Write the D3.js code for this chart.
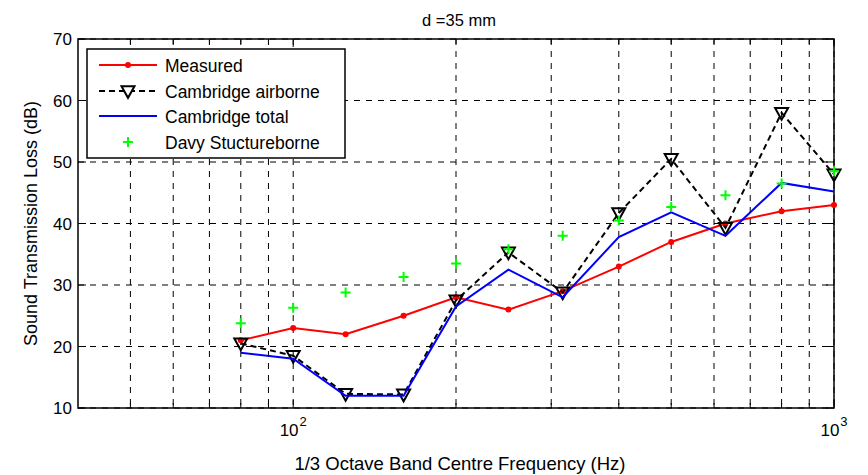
<!DOCTYPE html>
<html><head><meta charset="utf-8">
<script src="https://cdn.jsdelivr.net/npm/d3@7"></script>
<style>body{margin:0;background:#fff}svg{display:block;font-family:"Liberation Sans",Arial,sans-serif}</style>
</head><body>
<script>
const freqs = [80,100,125,160,200,250,315,400,500,630,800,1000];
const measured = [21,23,22,25,28,26,29,33,37,40,42,43];
const camAirborne = [20.5,18.5,12.3,12.2,27.5,35.3,28.8,41.7,50.5,39.3,58,48];
const camTotal = [19,18,12,12,26.5,32.5,28,37.8,41.8,38,46.6,45.2];
const davy = [23.8,26.3,28.8,31.3,33.5,35.8,38,40.5,42.7,44.6,46.5,48.5];
const yTicks = [10,20,30,40,50,60,70];
const xMajor = [100,1000];
const xMinor = [50,60,70,80,90,200,300,400,500,600,700,800,900];
const legendLabels = ["Measured","Cambridge airborne","Cambridge total","Davy Stuctureborne"];

const W=868,H=475, L=78,R=834,T=39,B=408;
const svg=d3.select("body").append("svg").attr("width",W).attr("height",H);
const x=d3.scaleLog().domain([40,1000]).range([L,R]);
const y=d3.scaleLinear().domain([10,70]).range([B,T]);

// grid
const g=svg.append("g");
xMinor.concat(xMajor).forEach(f=>{
  g.append("line").attr("x1",x(f)).attr("x2",x(f)).attr("y1",T).attr("y2",B)
   .attr("stroke","#000").attr("stroke-width",1).attr("stroke-dasharray","6,6");
});
yTicks.forEach(v=>{
  g.append("line").attr("x1",L).attr("x2",R).attr("y1",y(v)).attr("y2",y(v))
   .attr("stroke","#000").attr("stroke-width",1).attr("stroke-dasharray","6,6");
});
// ticks inward
xMinor.forEach(f=>{
  g.append("line").attr("x1",x(f)).attr("x2",x(f)).attr("y1",B).attr("y2",B-5).attr("stroke","#000");
  g.append("line").attr("x1",x(f)).attr("x2",x(f)).attr("y1",T).attr("y2",T+5).attr("stroke","#000");
});
xMajor.forEach(f=>{
  g.append("line").attr("x1",x(f)).attr("x2",x(f)).attr("y1",B).attr("y2",B-8).attr("stroke","#000");
  g.append("line").attr("x1",x(f)).attr("x2",x(f)).attr("y1",T).attr("y2",T+8).attr("stroke","#000");
});
yTicks.forEach(v=>{
  g.append("line").attr("x1",L).attr("x2",L+8).attr("y1",y(v)).attr("y2",y(v)).attr("stroke","#000");
  g.append("line").attr("x1",R).attr("x2",R-8).attr("y1",y(v)).attr("y2",y(v)).attr("stroke","#000");
});
svg.append("rect").attr("x",L).attr("y",T).attr("width",R-L).attr("height",B-T)
  .attr("fill","none").attr("stroke","#000").attr("stroke-width",1.5);

// tick labels
yTicks.forEach(v=>{
  svg.append("text").attr("x",L-6).attr("y",y(v)+6).attr("text-anchor","end")
    .attr("font-size",17).text(v);
});
xMajor.forEach(f=>{
  const t=svg.append("text").attr("x",x(f)).attr("y",B+28).attr("text-anchor","middle").attr("font-size",17);
  t.append("tspan").text("10");
  t.append("tspan").attr("dy",-10).attr("dx",1).attr("font-size",13).text(Math.round(Math.log10(f)));
});

svg.append("text").attr("x",459).attr("y",26).attr("text-anchor","middle").attr("font-size",16.5).text("d =35 mm");
svg.append("text").attr("x",460).attr("y",470).attr("text-anchor","middle").attr("font-size",18.5).text("1/3 Octave Band Centre Frequency (Hz)");
svg.append("text").attr("transform",`translate(37,${(T+B)/2}) rotate(-90)`).attr("text-anchor","middle").attr("font-size",18).text("Sound Transmission Loss (dB)");

const line=d3.line().x((d,i)=>x(freqs[i])).y(d=>y(d));
function triDown(cx,cy,s){ // open downward triangle
  const h=s*0.9;
  return `M${cx-s/2},${cy-h/2}L${cx+s/2},${cy-h/2}L${cx},${cy+h/2}Z`;
}
function plus(sel,cx,cy){
  sel.append("path").attr("d",`M${cx-5},${cy}H${cx+5}M${cx},${cy-5}V${cy+5}`)
    .attr("stroke","#00ff00").attr("stroke-width",2).attr("fill","none");
}

const pg=svg.append("g");
pg.append("path").datum(measured).attr("d",line).attr("fill","none").attr("stroke","#ff0000").attr("stroke-width",2);
pg.selectAll(".md").data(measured).enter().append("circle")
  .attr("cx",(d,i)=>x(freqs[i])).attr("cy",d=>y(d)).attr("r",3).attr("fill","#ff0000");
pg.append("path").datum(camAirborne).attr("d",line).attr("fill","none").attr("stroke","#000").attr("stroke-width",2).attr("stroke-dasharray","6,4");
pg.selectAll(".ca").data(camAirborne).enter().append("path")
  .attr("d",(d,i)=>triDown(x(freqs[i]),y(d)+1,13)).attr("fill","none").attr("stroke","#000").attr("stroke-width",2);
pg.append("path").datum(camTotal).attr("d",line).attr("fill","none").attr("stroke","#0000ff").attr("stroke-width",2);
davy.forEach((d,i)=>plus(pg,x(freqs[i]),y(d)));

// legend
const lg=svg.append("g");
lg.append("rect").attr("x",87).attr("y",49).attr("width",258).attr("height",109)
  .attr("fill","#fff").attr("stroke","#000").attr("stroke-width",1.5);
const ly=[65,91,116,142];
legendLabels.forEach((t,i)=>{
  lg.append("text").attr("x",165).attr("y",ly[i]+7).attr("font-size",17.5).text(t);
});
lg.append("line").attr("x1",99).attr("x2",157).attr("y1",ly[0]).attr("y2",ly[0]).attr("stroke","#ff0000").attr("stroke-width",2);
lg.append("circle").attr("cx",128).attr("cy",ly[0]).attr("r",3).attr("fill","#ff0000");
lg.append("line").attr("x1",99).attr("x2",157).attr("y1",ly[1]).attr("y2",ly[1]).attr("stroke","#000").attr("stroke-width",2).attr("stroke-dasharray","6,4");
lg.append("path").attr("d",triDown(128,ly[1]+1,13)).attr("fill","#fff").attr("stroke","#000").attr("stroke-width",2);
lg.append("line").attr("x1",99).attr("x2",157).attr("y1",ly[2]).attr("y2",ly[2]).attr("stroke","#0000ff").attr("stroke-width",2);
plus(lg,128,ly[3]);
</script>
</body></html>
